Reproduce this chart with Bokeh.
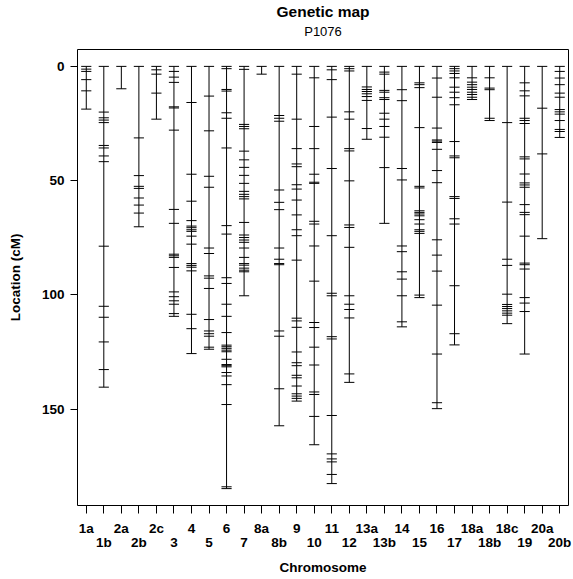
from bokeh.plotting import figure
from bokeh.models import Range1d, FixedTicker, LinearAxis, Title, ColumnDataSource
from bokeh.embed import file_html
from bokeh.resources import INLINE

# Linkage groups in map order
chromosomes = ["1a", "1b", "2a", "2b", "2c", "3", "4", "5", "6", "7",
               "8a", "8b", "9", "10", "11", "12", "13a", "13b", "14", "15",
               "16", "17", "18a", "18b", "18c", "19", "20a", "20b"]

# Marker positions (cM) for each linkage group
m_1a = [0, 1.2, 2.2, 5.8, 10.7, 18.7]
m_1b = [0, 20, 22.5, 23.5, 24.6, 34.6, 35.7, 39.2, 41.7, 78.7, 105, 109.8, 120.6, 132.7, 140.4]
m_2a = [0, 9.8]
m_2b = [0, 31.3, 47.8, 52.5, 53.4, 57.6, 60.7, 64.2, 70.2]
m_2c = [0, 1.5, 3.4, 11.7, 23.1]
m_3 = [0, 2.2, 4.7, 7.0, 17.7, 18.2, 27.9, 62.6, 68.7, 82.2, 82.9, 83.6, 88, 98.7,
       100.8, 102.6, 104.1, 108.2, 109.4]
m_4 = [0, 15.8, 47.2, 59, 67.5, 69.9, 70.6, 71.5, 72.2, 74.3, 77.8, 86.3, 87.1, 87.9,
       89.5, 108.5, 114.8, 125.7]
m_5 = [0, 13, 28.2, 48.1, 52.9, 79.5, 81.9, 91.7, 92.7, 97.2, 110.8, 115.8, 117, 118.1,
       122.9, 123.8]
m_6 = [0, 1, 10.1, 10.8, 20.3, 22.7, 35.7, 69.7, 73.4, 92.5, 95, 104.1, 109.4, 116.5,
       122, 122.7, 123.4, 124.2, 124.9, 128.2, 130.5, 131, 131.5, 134, 135.5, 139.3,
       148, 184, 184.8]
m_7 = [0, 1.3, 25.4, 26.3, 27.3, 37.1, 40.9, 44.2, 47.7, 51.2, 54.7, 56, 57, 58, 68.3,
       73.8, 74.9, 76, 77, 79.5, 83.6, 86.3, 87, 88.3, 89.2, 89.9, 100.4]
m_8a = [0, 3.4]
m_8b = [0, 21.5, 22.7, 24, 54.1, 59.5, 62.7, 79.5, 84.4, 86.3, 86.8, 115.8, 118.1,
        141.1, 157.3]
m_9 = [0, 3.4, 23.1, 36, 42.7, 43.9, 51.8, 53.7, 58.5, 65, 71.5, 74.1, 84.8, 110.2,
       111.4, 114.2, 125, 129.7, 131, 135.2, 136.3, 139.9, 143.3, 144.3, 145.3, 146.5]
m_10 = [0, 5, 26.3, 36, 47.2, 50.7, 51.2, 67.8, 69, 78.6, 94, 112.1, 114.3, 122.9,
        130.7, 142.5, 143.6, 153.2, 165.6]
m_11 = [0, 1.5, 5.8, 22.2, 44.7, 74.1, 99.3, 100.4, 118.3, 119.3, 152.8, 169.6, 171.8,
        173.1, 178.6, 182.6]
m_12 = [0, 1, 2, 19.9, 23.1, 36, 37, 50.1, 69.4, 70.5, 79.2, 100.4, 104.1, 106.4,
        110.1, 134.6, 138.3]
m_13a = [0, 9, 10.1, 11, 12, 13.2, 14.9, 27.2, 31.9]
m_13b = [0, 2.5, 3.4, 10.5, 11.3, 13.7, 14.5, 20.5, 23.1, 26.3, 31, 44.3, 68.7]
m_14 = [0, 10.2, 15, 44.7, 49.7, 78.6, 81.1, 89.9, 93.1, 100.4, 111.8, 114]
m_15 = [0, 7.2, 8, 9.3, 26.8, 52.5, 53.2, 63.2, 63.9, 64.6, 65.4, 67.1, 69, 71.5,
        72.2, 73.1, 100.1, 101.2]
m_16 = [0, 5.1, 13.5, 27, 32.2, 32.7, 33.3, 36.3, 45.6, 50.9, 75.9, 82.6, 89.6,
        104.5, 125.9, 147.2, 149.8]
m_17 = [0, 1, 2, 3.1, 5, 9.1, 11.3, 13.7, 16.8, 32.9, 39.2, 40, 57, 57.8, 66.7, 69,
        96, 117, 121.9]
m_18a = [0, 5, 6.9, 8, 9.1, 10.1, 11.3, 12.3, 13.5, 14.5]
m_18b = [0, 5, 9.5, 10.2, 22.7, 23.7]
m_18c = [0, 24.6, 59.4, 84.4, 87.1, 99.7, 104.2, 105.1, 106, 107, 108, 108.9, 112.6]
m_19 = [0, 7.2, 10.7, 12.9, 22.7, 23.7, 25, 39.6, 40.5, 47.1, 51, 51.9, 52.9, 60.5,
        63.9, 64.9, 74.3, 86.1, 86.8, 88.7, 101.2, 103.6, 107.3, 125.9]
m_20a = [0, 18.3, 38.3, 75.4]
m_20b = [0, 2.2, 5.1, 8, 11.7, 13.5, 18.9, 19.9, 20.9, 23.7, 27.6, 28.5, 31.1]

markers = [m_1a, m_1b, m_2a, m_2b, m_2c, m_3, m_4, m_5, m_6, m_7,
           m_8a, m_8b, m_9, m_10, m_11, m_12, m_13a, m_13b, m_14, m_15,
           m_16, m_17, m_18a, m_18b, m_18c, m_19, m_20a, m_20b]

FONT = "Liberation Sans"
INK = "black"
TICK_HALF = 0.29  # half width of a marker tick, in group units

positions = list(range(1, len(chromosomes) + 1))
ymax = max(max(m) for m in markers)
ymin = min(min(m) for m in markers)
pad = 0.04 * (ymax - ymin)

p = figure(width=573, height=579, output_backend="svg", toolbar_location=None,
           x_range=Range1d(0.5, len(chromosomes) + 0.5),
           y_range=Range1d(ymax + pad, ymin - pad),
           x_axis_location=None,
           min_border_left=77, min_border_right=5,
           min_border_top=49, min_border_bottom=74)
p.background_fill_color = "white"
p.border_fill_color = "white"
p.outline_line_color = INK
p.outline_line_width = 1
p.grid.visible = False

# Linkage group backbones
backbone = ColumnDataSource(dict(
    x=positions,
    y0=[min(m) for m in markers],
    y1=[max(m) for m in markers],
))
p.segment(x0="x", y0="y0", x1="x", y1="y1", source=backbone,
          line_color=INK, line_width=1)

# Marker ticks
tx, ty = [], []
for xpos, m in zip(positions, markers):
    for v in m:
        tx.append(xpos)
        ty.append(v)
ticks = ColumnDataSource(dict(
    x0=[x - TICK_HALF for x in tx],
    x1=[x + TICK_HALF for x in tx],
    y=ty,
))
p.segment(x0="x0", y0="y", x1="x1", y1="y", source=ticks,
          line_color=INK, line_width=1)


def style_axis(ax, tick_out, standoff):
    ax.major_label_text_font = FONT
    ax.major_label_text_font_size = "13.5px"
    ax.major_label_text_font_style = "bold"
    ax.major_label_text_color = INK
    ax.major_label_standoff = standoff
    ax.major_tick_out = tick_out
    ax.major_tick_in = 0
    ax.minor_tick_out = 0
    ax.minor_tick_in = 0
    ax.axis_line_color = None
    ax.major_tick_line_color = INK if tick_out else None
    ax.axis_label_text_font = FONT
    ax.axis_label_text_font_size = "13.5px"
    ax.axis_label_text_font_style = "bold"
    ax.axis_label_text_color = INK


# Y axis
ya = p.yaxis[0]
ya.ticker = FixedTicker(ticks=[0, 50, 100, 150])
style_axis(ya, 7, 6)
ya.axis_label = "Location (cM)"
ya.axis_label_standoff = 16

# X axis: group names alternate between two rows
upper = {pos: (name if i % 2 == 0 else "") for i, (pos, name) in enumerate(zip(positions, chromosomes))}
lower = {pos: (name if i % 2 == 1 else "") for i, (pos, name) in enumerate(zip(positions, chromosomes))}

xa1 = LinearAxis(ticker=FixedTicker(ticks=positions), major_label_overrides=upper)
style_axis(xa1, 8, 7)

xa2 = LinearAxis(ticker=FixedTicker(ticks=positions), major_label_overrides=lower)
style_axis(xa2, 0, -4)
xa2.axis_label = "Chromosome"
xa2.axis_label_standoff = 7

p.add_layout(xa1, "below")
p.add_layout(xa2, "below")

# Titles
p.add_layout(Title(text="P1076", align="center", text_font=FONT,
                   text_font_size="13px", text_font_style="normal",
                   text_color=INK, standoff=21), "above")
p.add_layout(Title(text="Genetic map", align="center", text_font=FONT,
                   text_font_size="15.5px", text_font_style="bold",
                   text_color=INK, standoff=-16), "above")

open("out.html", "w").write(file_html(p, INLINE))
